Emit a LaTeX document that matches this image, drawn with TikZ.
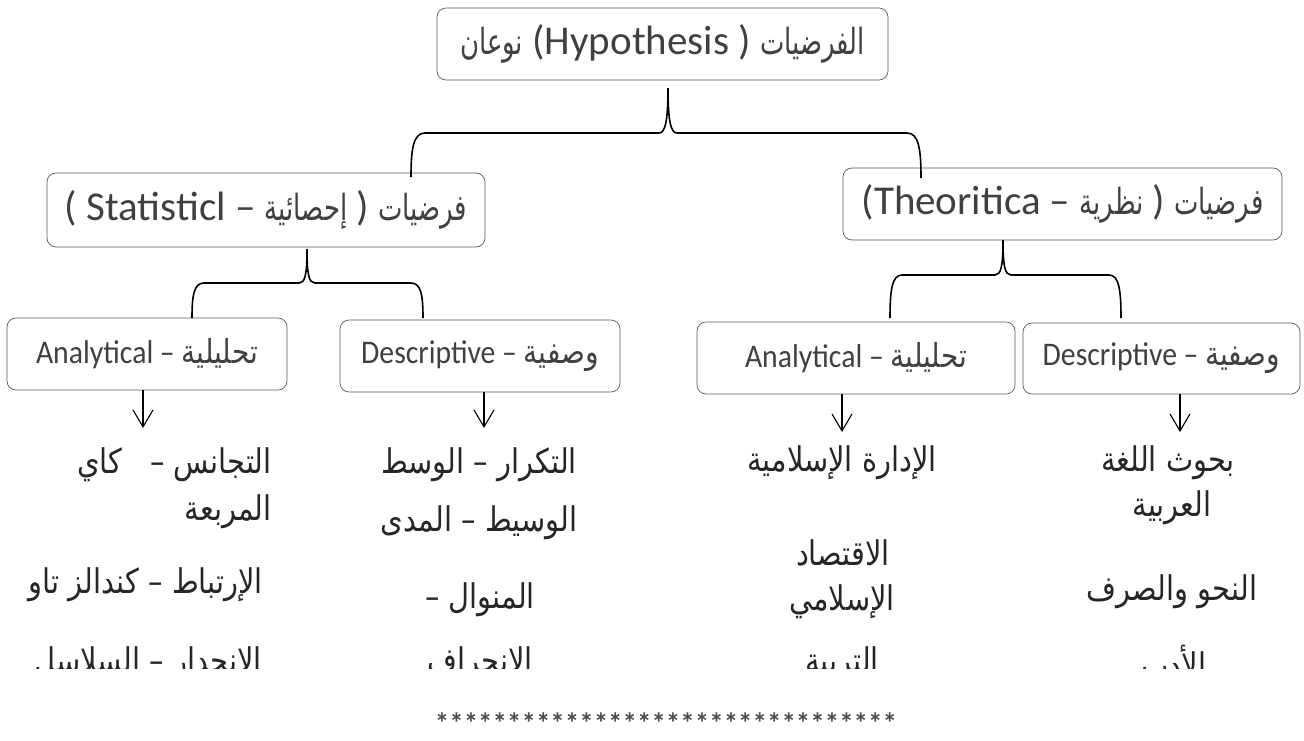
\documentclass[tikz,border=0pt]{standalone}
\usepackage{fontspec}
\setmainfont{Carlito}
\newfontfamily\latB{Carlito}[FakeStretch=0.9]
\newfontfamily\arA[Script=Arabic,FakeStretch=0.72]{DejaVu Sans}
\newfontfamily\arB[Script=Arabic,FakeStretch=0.85]{DejaVu Sans}
\TeXXeTstate=1
\usetikzlibrary{arrows.meta}
\newcommand{\ARa}[1]{{\arA\fontsize{36}{42}\selectfont\beginR #1\endR}}
\newcommand{\ARb}[1]{{\arB\fontsize{33}{40}\selectfont\beginR #1\endR}}
\begin{document}
\begin{tikzpicture}[x=1pt,y=-1pt,
  box/.style={draw=black!65, rounded corners=9pt, line width=0.7pt, text=black!75, inner sep=0pt, align=center},
  bigtxt/.style={font=\fontsize{41}{46}\selectfont},
  smalltxt/.style={font=\latB\fontsize{33}{40}\selectfont},
  brace/.style={line width=1.6pt, black},
  arr/.style={-{Straight Barb[length=17pt,width=20pt]}, line width=1.1pt},
  col/.style={text=black!85, font=\arB\fontsize{34}{40}\selectfont, inner sep=0pt},
  stars/.style={text=black!70, font=\bfseries\fontsize{29}{34}\selectfont, inner sep=0pt, text depth=0pt, anchor=base}]
\useasboundingbox (0,0) rectangle (1304,740);
% main boxes
\node[box, bigtxt, minimum width=451pt, minimum height=72pt] (top) at (662.5,44) {\ARa{نوعان} (Hypothesis ) \ARa{الفرضيات}};
\node[box, bigtxt, minimum width=438pt, minimum height=74pt] (stat) at (266,210) {( Statisticl – \ARa{إحصائية} ) \ARa{فرضيات}};
\node[box, bigtxt, minimum width=439pt, minimum height=72pt] (theo) at (1062.5,204) {(Theoritica – \ARa{نظرية} ) \ARa{فرضيات}};
% sub boxes
\node[box, smalltxt, minimum width=280pt, minimum height=72pt] (sa) at (147,354) {Analytical – \ARb{تحليلية}};
\node[box, smalltxt, minimum width=280pt, minimum height=72pt] (sd) at (480,356) {Descriptive – \ARb{وصفية}};
\node[box, smalltxt, minimum width=318pt, minimum height=72pt] (ta) at (856,358) {Analytical – \ARb{تحليلية}};
\node[box, smalltxt, minimum width=277pt, minimum height=71pt] (td) at (1161.5,358.5) {Descriptive – \ARb{وصفية}};
% brace 1
\coordinate (b1l) at (411,177);
\coordinate (b1t) at (668,88);
\coordinate (b1r) at (921,178);
\draw[brace] (b1l) .. controls (411,150) and (413,133) .. (425,133) -- (659,133) .. controls (665,133) and (668,122) .. (b1t) .. controls (668,122) and (671,133) .. (677,133) -- (907,133) .. controls (919,133) and (921,150) .. (b1r);
% brace 2
\coordinate (b2l) at (192,318);
\coordinate (b2t) at (307,249);
\coordinate (b2r) at (423,318);
\draw[brace] (b2l) .. controls (192,295) and (194,283) .. (204,283) -- (299,283) .. controls (305,283) and (307,275) .. (b2t) .. controls (307,275) and (309,283) .. (315,283) -- (411,283) .. controls (421,283) and (423,295) .. (b2r);
% brace 3
\coordinate (b3l) at (890,318);
\coordinate (b3t) at (1003,240);
\coordinate (b3r) at (1121,318);
\draw[brace] (b3l) .. controls (890,290) and (892,275) .. (902,275) -- (995,275) .. controls (1001,275) and (1003,266) .. (b3t) .. controls (1003,266) and (1005,275) .. (1011,275) -- (1109,275) .. controls (1119,275) and (1121,290) .. (b3r);
% arrows
\coordinate (a1) at (143,428);
\coordinate (a2) at (484,428);
\coordinate (a3) at (842,432);
\coordinate (a4) at (1180,432);
\draw[arr] (a1 |- sa.south) -- (a1);
\draw[arr] (a2 |- sd.south) -- (a2);
\draw[arr] (a3 |- ta.south) -- (a3);
\draw[arr] (a4 |- td.south) -- (a4);
% columns
\begin{scope}
\clip (0,0) rectangle (1304,668);
\node[col, anchor=east] (c1a) at (272,465) {\beginR التجانس –\hspace{28pt}كاي\endR};
\node[col, anchor=east] (c1b) at (272,512) {\beginR المربعة\endR};
\node[col, anchor=east] (c1c) at (263,585) {\beginR الإرتباط – كندالز تاو\endR};
\node[col, anchor=east] (c1d) at (262,664) {\beginR الانحدار – السلاسل\endR};
\node[col] (c2a) at (479,465) {\beginR التكرار – الوسط\endR};
\node[col] (c2b) at (479,523) {\beginR الوسيط – المدى\endR};
\node[col] (c2c) at (480,600) {\beginR المنوال –\endR};
\node[col] (c2d) at (480,664) {\beginR الانحراف\endR};
\node[col] (c3a) at (842,463) {\beginR الإدارة الإسلامية\endR};
\node[col] (c3b) at (843,553) {\beginR الاقتصاد\endR};
\node[col] (c3c) at (842,602) {\beginR الإسلامي\endR};
\node[col] (c3d) at (842,664) {\beginR التربية\endR};
\node[col] (c4a) at (1168,463) {\beginR بحوث اللغة\endR};
\node[col] (c4b) at (1172,508) {\beginR العربية\endR};
\node[col] (c4c) at (1172,592) {\beginR النحو والصرف\endR};
\node[col] (c4d) at (1174,664) {\beginR الأدب\endR};
\end{scope}
\node[stars] (st) at (666,733) {********************************};
\end{tikzpicture}
\end{document}
